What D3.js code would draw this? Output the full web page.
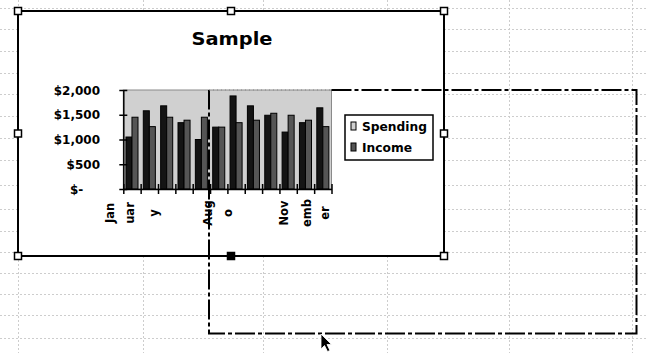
<!DOCTYPE html>
<html>
<head>
<meta charset="utf-8">
<script src="https://cdn.jsdelivr.net/npm/d3@7"></script>
<style>
  html, body { margin: 0; padding: 0; background: #fff; }
  svg { display: block; }
  text { font-family: "DejaVu Sans", sans-serif; font-weight: bold; fill: #000; }
</style>
</head>
<body>
<svg id="sheet" width="647" height="353"></svg>
<script>
// ---- chart data -------------------------------------------------------
const months = ["January", "February", "March", "April", "May", "June",
                "July", "August", "September", "October", "November", "December"];
const seriesNames = ["Spending", "Income"];
const spending = [1050, 1580, 1680, 1340, 1000, 1250, 1880, 1680, 1490, 1150, 1340, 1640];
const income   = [1450, 1260, 1450, 1390, 1450, 1250, 1340, 1390, 1530, 1490, 1390, 1260];
const yTicks = [0, 500, 1000, 1500, 2000];
const yTickLabels = ["$-\u00a0\u00a0\u00a0\u00a0", "$500", "$1,000", "$1,500", "$2,000"];
// category-axis label pieces and where they sit along the axis (in category units)
const xLabelText = ["Jan", "uar", "y", "Aug", "o", "Nov", "emb", "er"];
const xLabelSlot = [-0.54, 0.62, 2.0, 5.09, 6.27, 9.5, 10.8, 11.84];

const svg = d3.select("#sheet");
const W = 647, H = 353;

// ---- worksheet grid ---------------------------------------------------
const rowLines = [8, 29, 51, 73, 94, 116, 138, 160, 185, 209, 231, 252, 273, 294, 315, 338];
const colLines = [18, 143, 263, 387, 509, 632];
const grid = svg.append("g").attr("stroke", "#cdcdcd").attr("stroke-width", 1)
  .attr("stroke-dasharray", "2,2");
grid.selectAll("line.r").data(rowLines).join("line").attr("class", "r")
  .attr("x1", 0).attr("x2", W).attr("y1", d => d + 0.5).attr("y2", d => d + 0.5);
grid.selectAll("line.c").data(colLines).join("line").attr("class", "c")
  .attr("y1", 0).attr("y2", H).attr("x1", d => d + 0.5).attr("x2", d => d + 0.5);

// ---- chart object frame -----------------------------------------------
const frame = { x0: 18, y0: 11, x1: 444, y1: 256 };
svg.append("rect")
  .attr("x", frame.x0).attr("y", frame.y0)
  .attr("width", frame.x1 - frame.x0).attr("height", frame.y1 - frame.y0)
  .attr("fill", "#fff").attr("stroke", "#000").attr("stroke-width", 2);

svg.append("text").attr("x", 232).attr("y", 45).attr("text-anchor", "middle")
  .attr("font-size", 17).attr("textLength", 81).attr("lengthAdjust", "spacingAndGlyphs")
  .text("Sample");

// ---- plot area ----------------------------------------------------------
const plot = { left: 123.3, right: 331.5, top: 90, bottom: 189 };
const x = d3.scaleBand().domain(months).range([plot.left, plot.right]).padding(0);
const slot = d3.scaleLinear().domain([0, months.length]).range([plot.left, plot.right]);
const xs = d3.scaleBand().domain(seriesNames).range([0, x.bandwidth()])
  .paddingOuter(0.44).paddingInner(0);
const y = d3.scaleLinear().domain([0, 2000]).range([plot.bottom, plot.top]);

svg.append("rect")
  .attr("x", plot.left).attr("y", plot.top)
  .attr("width", plot.right - plot.left).attr("height", plot.bottom - plot.top)
  .attr("fill", "#d0d0d0").attr("stroke", "#8a8a8a").attr("stroke-width", 1);

const barFill = { Spending: "#141414", Income: "#555" };
const rows = months.map((m, i) => ({ month: m, Spending: spending[i], Income: income[i] }));

svg.append("g").selectAll("g").data(rows).join("g")
  .attr("transform", d => `translate(${x(d.month)},0)`)
  .selectAll("rect")
  .data(d => seriesNames.map(s => ({ series: s, value: d[s] })))
  .join("rect")
  .attr("x", d => xs(d.series))
  .attr("width", xs.bandwidth())
  .attr("y", d => y(d.value))
  .attr("height", d => y(0) - y(d.value))
  .attr("fill", d => barFill[d.series])
  .attr("stroke", "#000").attr("stroke-width", 1);

// value axis
const yAxis = svg.append("g").attr("transform", `translate(${plot.left},0)`)
  .call(d3.axisLeft(y).tickValues(yTicks).tickFormat((d, i) => yTickLabels[i])
    .tickSize(4).tickSizeOuter(0));
yAxis.select(".domain").attr("stroke", "#000").attr("stroke-width", 1.5);
yAxis.selectAll(".tick line").attr("x1", 4).attr("stroke", "#000").attr("stroke-width", 1.5);
yAxis.selectAll(".tick text").attr("x", -(plot.left - 100)).attr("dy", "0.35em")
  .attr("font-size", 12).attr("font-family", "DejaVu Sans").attr("font-weight", "bold")
  .attr("fill", "#000");

// category axis
const xAxis = svg.append("g").attr("transform", `translate(0,${plot.bottom})`)
  .call(d3.axisBottom(slot).tickValues(d3.range(months.length + 1)).tickFormat("")
    .tickSize(5).tickSizeOuter(0));
xAxis.select(".domain").attr("stroke", "#000").attr("stroke-width", 1.5);
xAxis.selectAll(".tick line").attr("y1", -5).attr("stroke", "#000").attr("stroke-width", 1.5);

svg.append("g").selectAll("text").data(xLabelText).join("text")
  .attr("transform", (d, i) => `translate(${slot(xLabelSlot[i])},213) rotate(-90)`)
  .attr("text-anchor", "middle").attr("font-size", 11.5)
  .text(d => d);

// legend
const legend = svg.append("g");
legend.append("rect").attr("x", 345).attr("y", 115).attr("width", 88).attr("height", 45)
  .attr("fill", "#fff").attr("stroke", "#000").attr("stroke-width", 1.5);
const swatchFill = { Spending: "#cfcfcf", Income: "#555" };
const legendText = { Spending: 65, Income: 50 };
const li = legend.selectAll("g").data(seriesNames).join("g")
  .attr("transform", (d, i) => `translate(351,${122 + i * 21})`);
li.append("rect").attr("width", 5).attr("height", 8)
  .attr("fill", d => swatchFill[d]).attr("stroke", "#000").attr("stroke-width", 1);
li.append("text").attr("x", 11).attr("y", 9).attr("font-size", 11.5)
  .attr("textLength", d => legendText[d]).attr("lengthAdjust", "spacingAndGlyphs")
  .text(d => d);

// selection handles
const hx = [frame.x0, (frame.x0 + frame.x1) / 2, frame.x1];
const hy = [frame.y0, (frame.y0 + frame.y1) / 2, frame.y1];
const handles = [];
hx.forEach((cx, i) => hy.forEach((cy, j) => {
  if (i === 1 && j === 1) return;
  handles.push({ cx, cy, solid: i === 1 && j === 2 });
}));
svg.append("g").selectAll("rect").data(handles).join("rect")
  .attr("x", d => d.cx - 3.5).attr("y", d => d.cy - 3.5)
  .attr("width", 7).attr("height", 7)
  .attr("fill", d => d.solid ? "#000" : "#fff")
  .attr("stroke", "#000").attr("stroke-width", 1.5);

// drag outline (dash-dot marquee)
const mq = { x0: 209, y0: 90, x1: 636.5, y1: 333.5 };
const dashDot = "20,3,4,3";
const marquee = svg.append("g").attr("fill", "none").attr("stroke", "#000").attr("stroke-width", 2);
marquee.append("path")
  .attr("d", `M${plot.right},${mq.y0}H${mq.x1}V${mq.y1}H${mq.x0}V${mq.y0}`)
  .attr("stroke-dasharray", dashDot);
marquee.append("line")
  .attr("x1", mq.x0).attr("x2", plot.right).attr("y1", mq.y0).attr("y2", mq.y0)
  .attr("stroke", "#888").attr("stroke-width", 1).attr("stroke-dasharray", "1,3");

// mouse pointer
svg.append("path")
  .attr("d", "M0,0 L0,15 L3.5,11.5 L6.5,17.5 L9,16.5 L6,10.5 L10.5,10.5 Z")
  .attr("transform", "translate(321,334)")
  .attr("fill", "#000").attr("stroke", "#fff").attr("stroke-width", 0.8);
</script>
</body>
</html>
